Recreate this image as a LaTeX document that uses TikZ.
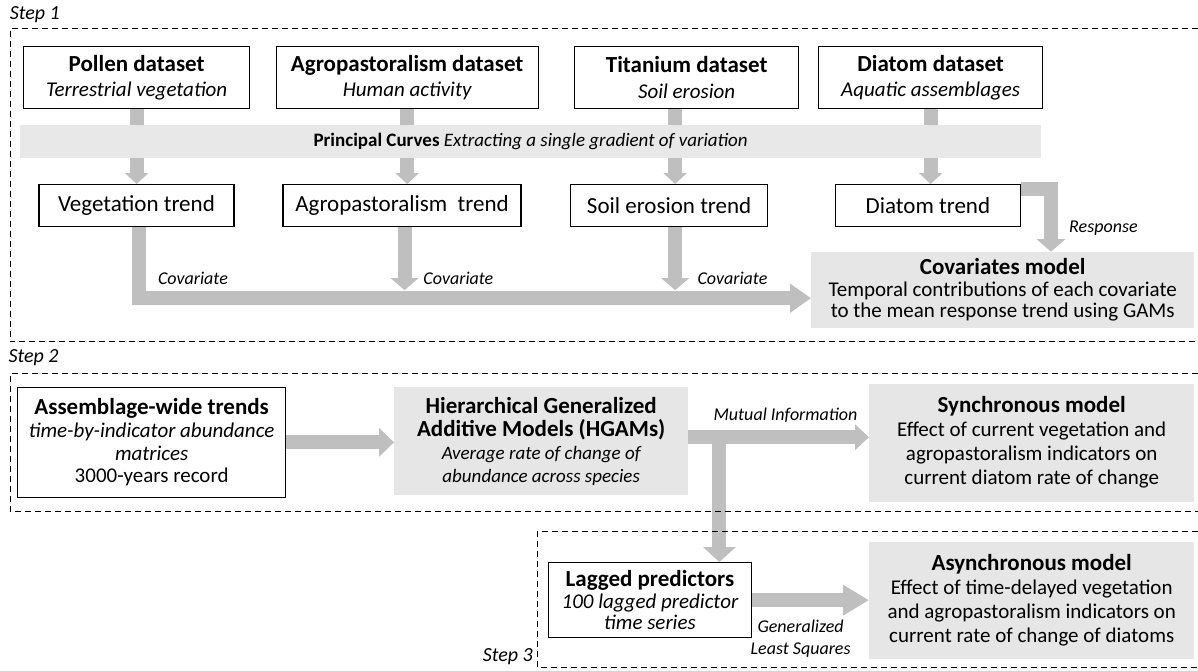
\documentclass[tikz,border=0pt]{standalone}
\usepackage{fontspec}
\setmainfont{Carlito}
\usetikzlibrary{arrows.meta, calc, positioning}
\definecolor{flowgray}{HTML}{BFBFBF}
\definecolor{modelgray}{HTML}{E6E6E6}
\newcommand{\boxtitle}[1]{{\fontsize{23}{26}\selectfont\bfseries #1}}
\tikzset{
	dataset/.style={draw, line width=1.3pt, rectangle, inner sep=0pt, anchor=north west, align=center, font=\fontsize{21}{25.5}\selectfont},
	trend/.style={draw, line width=1.3pt, rectangle, inner sep=0pt, anchor=north west, font=\fontsize{23}{26}\selectfont},
	model/.style={rectangle, fill=modelgray, inner sep=0pt, anchor=north west, align=center, font=\fontsize{21}{24}\selectfont},
	% gray arrows
	flow/.style={draw=flowgray, line width=14pt},
	flowarrow/.style={flow, -{Triangle[width=28pt,length=15pt]}},
	smallarrow/.style={flow, -{Triangle[width=23pt,length=11pt]}},
	flowlabel/.style={inner sep=0pt, font=\fontsize{18}{22.7}\selectfont\itshape, align=center},
	steplabel/.style={inner sep=0pt, font=\fontsize{20}{22}\selectfont\itshape},
	stepframe/.style={draw, line width=1pt, dash pattern=on 6pt off 4pt},
}
\begin{document}
\begin{tikzpicture}[x=1pt, y=-1pt]
	\useasboundingbox (0,0) rectangle (1198,670);
	
	% Step 1
	\node (pollen) [dataset, minimum width=226pt, minimum height=62pt] at (23,46) {\boxtitle{Pollen dataset}\\\itshape Terrestrial vegetation};
	\node (agro) [dataset, minimum width=262pt, minimum height=62pt] at (275.5,46) {\boxtitle{Agropastoralism dataset}\\\itshape Human activity};
	\node (titan) [dataset, minimum width=224pt, minimum height=62pt] at (574,46) {\boxtitle{Titanium dataset}\\\itshape Soil erosion};
	\node (diatom) [dataset, minimum width=224pt, minimum height=62pt] at (818,46) {\boxtitle{Diatom dataset}\\\itshape Aquatic assemblages};
	
	\node (vegtrend) [trend, minimum width=195pt, minimum height=41.5pt] at (38.3,184) {Vegetation trend};
	\node (agrotrend) [trend, minimum width=238pt, minimum height=41.5pt] at (282.4,184) {Agropastoralism\ \ trend};
	\node (soiltrend) [trend, minimum width=197pt, minimum height=41.5pt] at (570,184) {Soil erosion trend};
	\node (diatomtrend) [trend, minimum width=184.5pt, minimum height=41.5pt] at (835,184) {Diatom trend};
	
	\draw[smallarrow] (pollen.south) -- (pollen.south |- vegtrend.north);
	\draw[smallarrow] (agro.south) -- (agro.south |- agrotrend.north);
	\draw[smallarrow] ([xshift=-11.5pt]titan.south) -- ([xshift=-11.5pt]titan.south |- soiltrend.north);
	\draw[smallarrow] (diatom.south) -- (diatom.south |- diatomtrend.north);
	
	\node (curves) [model, fill=modelgray!90, minimum width=1021pt, minimum height=33pt, font=\fontsize{19}{22}\selectfont] at (20,125) {\textbf{Principal Curves} \textit{Extracting a single gradient of variation}};
	
	\node (covmodel) [model, minimum width=383pt, minimum height=76pt, font=\fontsize{21}{21.5}\selectfont] at (811,251.7) {\boxtitle{Covariates model}\\Temporal contributions of each covariate\\to the mean response trend using GAMs};
	\coordinate (covin) at ($(covmodel.west)+(0,8.3)$);
	
	\draw[flowarrow, -{Triangle[width=28pt,length=21pt]}] ([xshift=3pt]vegtrend.south) |- (covin);
	\draw[flowarrow, -{Triangle[width=27pt,length=12pt]}, shorten >=8pt] ([xshift=2.5pt]agrotrend.south) -- ([xshift=2.5pt]agrotrend.south |- covin);
	\draw[flowarrow, -{Triangle[width=27pt,length=12pt]}, shorten >=8pt] ([xshift=6pt]soiltrend.south) -- ([xshift=6pt]soiltrend.south |- covin);
	\draw[flowarrow, -{Triangle[width=28pt,length=12.5pt]}] ($(diatomtrend.north east)+(0,5)$) -| ($(covmodel.north west)+(240,0)$);
	
	\node (cov1) [flowlabel] at (193,278) {Covariate};
	\node (cov2) [flowlabel] at (458.4,278) {Covariate};
	\node (cov3) [flowlabel] at (732.5,278) {Covariate};
	\node (resp) [flowlabel] at (1103.4,228) {Response};
	
	% Step 2
	\node (assemb) [dataset, minimum width=268pt, minimum height=110pt, font=\fontsize{21}{22.7}\selectfont] at (17,386.7) {\boxtitle{Assemblage-wide trends}\\\itshape time-by-indicator abundance\\\itshape matrices\\3000-years record};
	\node (hgam) [model, minimum width=294pt, minimum height=108pt, font=\fontsize{19}{23}\selectfont] at (394,387) {\boxtitle{Hierarchical Generalized}\\\boxtitle{Additive Models (HGAMs)}\\\itshape Average rate of change of\\\itshape abundance across species};
	\node (synch) [model, minimum width=325pt, minimum height=118.4pt] at (869,383.3) {\boxtitle{Synchronous model}\\Effect of current vegetation and\\agropastoralism indicators on\\current diatom rate of change};
	
	\draw[flowarrow] (assemb.east) -- (assemb.east -| hgam.west);
	\draw[flowarrow, -{Triangle[width=25pt,length=14pt]}] ($(hgam.east)+(0,-4)$) -- ($(hgam.east -| synch.west)+(0,-4)$);
	\coordinate (split) at ($(hgam.east)+(31,-4)$);
	\node (mutinf) [flowlabel] at (785.5,415) {Mutual Information};
	
	% Step 3
	\node (lagged) [dataset, minimum width=203.4pt, minimum height=75pt, font=\fontsize{21}{21.5}\selectfont] at (547.6,562) {\boxtitle{Lagged predictors}\\\itshape 100 lagged predictor\\\itshape time series};
	\node (async) [model, minimum width=325pt, minimum height=116.6pt] at (869,541.7) {\boxtitle{Asynchronous model}\\Effect of time-delayed vegetation\\and agropastoralism indicators on\\current rate of change of diatoms};
	
	\draw[flowarrow, -{Triangle[width=32pt,length=15pt]}] (split) -- (split |- lagged.north);
	\draw[flowarrow, -{Triangle[width=29pt,length=26pt]}] (lagged.east) -- (lagged.east -| async.west);
	\node (gls) [flowlabel] at (800.6,638.7) {Generalized\\Least Squares};
	
	% step frames
	\draw[stepframe] (1198,28.3) -| (10.3,341.7) -- (1198,341.7);
	\draw[stepframe] (1198,373.3) -| (10.3,511) -- (1198,511);
	\draw[stepframe] (1198,531.7) -| (537.4,667.3) -- (1198,667.3);
	\node (step1) [steplabel, anchor=west] at (9.6,15) {Step 1};
	\node (step2) [steplabel, anchor=west] at (8.4,358) {Step 2};
	\node (step3) [steplabel, anchor=east] at (533,657) {Step 3};
\end{tikzpicture}
\end{document}
